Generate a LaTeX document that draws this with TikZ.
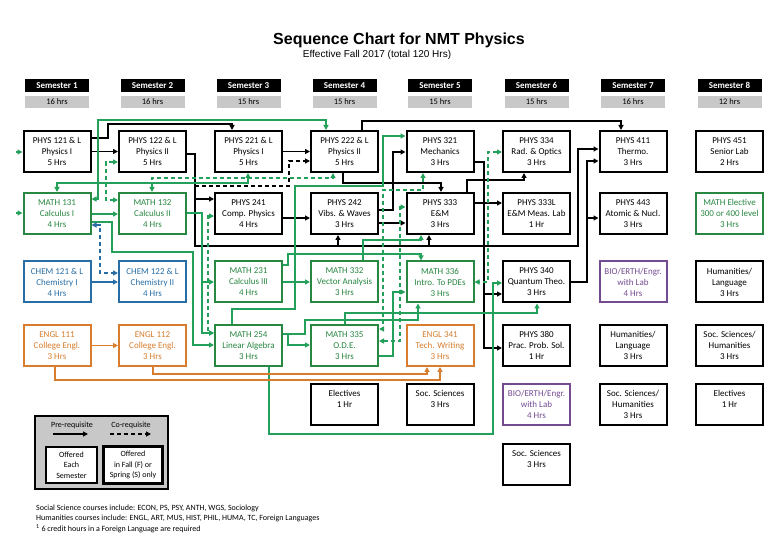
\documentclass[tikz,border=0pt]{standalone}
\usepackage{fontspec}
\setmainfont{Carlito}
\newfontfamily\arialfont{Liberation Sans}
\usetikzlibrary{arrows.meta}
\definecolor{mgreen}{RGB}{40,135,65}
\definecolor{lgreen}{RGB}{35,160,90}
\definecolor{cblue}{RGB}{40,110,165}
\definecolor{corange}{RGB}{215,125,45}
\definecolor{cpurple}{RGB}{115,75,145}
\definecolor{hgray}{RGB}{200,200,200}
\tikzset{
 course/.style={draw=black, line width=2pt, fill=white, minimum width=67pt, minimum height=41pt, inner sep=0pt, align=center, font=\fontsize{9}{11}\selectfont},
 mathc/.style={course, draw=mgreen, text=mgreen},
 chemc/.style={course, draw=cblue, text=cblue},
 englc/.style={course, draw=corange, text=corange},
 bioc/.style={course, draw=cpurple, text=cpurple},
 semhead/.style={fill=black, text=white, minimum width=64pt, minimum height=13pt, inner sep=0pt, font=\bfseries\fontsize{9}{10}\selectfont},
 hrsbox/.style={fill=hgray, minimum width=64pt, minimum height=12pt, inner sep=0pt, font=\fontsize{8.5}{10}\selectfont},
 lnk/.style={line width=1.5pt},
 arE/.style={-{Triangle[length=5pt,width=5pt]}},
 arB/.style={{Triangle[length=5pt,width=5pt]}-{Triangle[length=5pt,width=5pt]}},
 blk/.style={lnk, draw=black},
 grn/.style={lnk, draw=lgreen},
 blu/.style={lnk, draw=cblue},
 org/.style={lnk, draw=corange},
 codash/.style={dash pattern=on 4pt off 3pt},
 smalltext/.style={font=\fontsize{8}{10}\selectfont, inner sep=0pt}
}
\begin{document}
\begin{tikzpicture}[x=1pt,y=-1pt]
\useasboundingbox (0,0) rectangle (780,540);
\fill[white] (0,0) rectangle (780,540);

% titles
\node[font=\arialfont\bfseries\fontsize{16}{18}\selectfont] (title) at (399,40) {Sequence Chart for NMT Physics};
\node[font=\arialfont\fontsize{10}{12}\selectfont] (subtitle) at (377,55) {Effective Fall 2017 (total 120 Hrs)};

% headers
\foreach \i/\x/\h in {1/57/16,2/152.5/16,3/248.5/15,4/344.5/15,5/440/15,6/536.5/15,7/633/16,8/729.5/12}{
  \node[semhead] (sem\i) at (\x,85.5) {Semester \i};
  \node[hrsbox] (hrs\i) at (\x,102) {\h\ hrs};
}

% semester 1
\node[course] (p121) at (57,151.5) {PHYS 121 \& L\\Physics I\\5 Hrs};
\node[mathc] (m131) at (57,213.5) {MATH 131\\Calculus I\\4 Hrs};
\node[chemc] (c121) at (57,282) {CHEM 121 \& L\\Chemistry I\\4 Hrs};
\node[englc] (e111) at (57,345.5) {ENGL 111\\College Engl.\\3 Hrs};
% semester 2
\node[course] (p122) at (152.5,151.5) {PHYS 122 \& L\\Physics II\\5 Hrs};
\node[mathc] (m132) at (152.5,213.5) {MATH 132\\Calculus II\\4 Hrs};
\node[chemc] (c122) at (152.5,282) {CHEM 122 \& L\\Chemistry II\\4 Hrs};
\node[englc] (e112) at (152.5,345.5) {ENGL 112\\College Engl.\\3 Hrs};
% semester 3
\node[course] (p221) at (248.5,151.5) {PHYS 221 \& L\\Physics I\\5 Hrs};
\node[course] (p241) at (248.5,213.5) {PHYS 241\\Comp. Physics\\4 Hrs};
\node[mathc] (m231) at (248.5,282) {MATH 231\\Calculus III\\4 Hrs};
\node[mathc] (m254) at (248.5,345.5) {MATH 254\\Linear Algebra\\3 Hrs};
% semester 4
\node[course] (p222) at (344.5,151.5) {PHYS 222 \& L\\Physics II\\5 Hrs};
\node[course] (p242) at (344.5,213.5) {PHYS 242\\Vibs. \& Waves\\3 Hrs};
\node[mathc] (m332) at (344.5,282) {MATH 332\\Vector Analysis\\3 Hrs};
\node[mathc] (m335) at (344.5,345.5) {MATH 335\\O.D.E.\\3 Hrs};
\node[course] (el4) at (344.5,404.5) {Electives\\1 Hr\\\mbox{}};
% semester 5
\node[course] (p321) at (440,151.5) {PHYS 321\\Mechanics\\3 Hrs};
\node[course] (p333) at (440,213.5) {PHYS 333\\E\&M\\3 Hrs};
\node[mathc] (m336) at (440,282) {MATH 336\\Intro. To PDEs\\3 Hrs};
\node[englc] (e341) at (440,345.5) {ENGL 341\\Tech. Writing\\3 Hrs};
\node[course] (ss5) at (440,404.5) {Soc. Sciences\\3 Hrs\\\mbox{}};
% semester 6
\node[course] (p334) at (536.5,151.5) {PHYS 334\\Rad. \& Optics\\3 Hrs};
\node[course] (p333L) at (536.5,213.5) {PHYS 333L\\E\&M Meas. Lab\\1 Hr};
\node[course] (p340) at (536.5,282) {PHYS 340\\Quantum Theo.\\3 Hrs};
\node[course] (p380) at (536.5,345.5) {PHYS 380\\Prac. Prob. Sol.\\1 Hr};
\node[bioc] (bio6) at (536.5,404.5) {BIO/ERTH/Engr.\\with Lab\\4 Hrs};
\node[course] (ss6) at (536.5,464.5) {Soc. Sciences\\3 Hrs\\\mbox{}};
% semester 7
\node[course] (p411) at (633,151.5) {PHYS 411\\Thermo.\\3 Hrs};
\node[course] (p443) at (633,213.5) {PHYS 443\\Atomic \& Nucl.\\3 Hrs};
\node[bioc] (bio7) at (633,282) {BIO/ERTH/Engr.\\with Lab\\4 Hrs};
\node[course] (hum7) at (633,345.5) {Humanities/\\Language\\3 Hrs};
\node[course] (ssh7) at (633,404.5) {Soc. Sciences/\\Humanities\\3 Hrs};
% semester 8
\node[course] (p451) at (729.5,151.5) {PHYS 451\\Senior Lab\\2 Hrs};
\node[mathc] (mel) at (729.5,213.5) {MATH Elective\\300 or 400 level\\3 Hrs};
\node[course] (hum8) at (729.5,282) {Humanities/\\Language\\3 Hrs};
\node[course] (ssh8) at (729.5,345.5) {Soc. Sciences/\\Humanities\\3 Hrs};
\node[course] (el8) at (729.5,404.5) {Electives\\1 Hr\\\mbox{}};

% junction coordinates
\coordinate (j1) at (195,199);
\coordinate (j2) at (338,246);
\coordinate (j3) at (429,246);
\coordinate (j4) at (484,294);
\coordinate (j5) at (587,218);
\coordinate (j6) at (195,186);
\coordinate (j7) at (202,282);
\coordinate (s1) at (16,152);
\coordinate (s2) at (16,213);

% black prerequisites
\draw[blk,arE] (p121.east) -- (p122.west);
\draw[blk,arE] (p121.east |- 0,138) -- (108,138) -- (108,124) -- (232,124) -- (p221.north -| 232,0);
\draw[blk,arE] (p122.east |- 0,154) -- (195,154) -- (195,246) -- (578,246) -- (578,149) -- (p411.west |- 0,149);
\draw[blk,arE] (j1) -- (p241.west |- j1);
\draw[blk,arE] (j2) -- (p242.south -| j2);
\draw[blk,arE] (j3) -- (p333.south -| j3);
\draw[blk,arE] (p221.east) -- (p222.west);
\draw[blk,arE] (p241.east |- 0,218) -- (p242.west |- 0,218);
\draw[blk,arE] (p222.north -| 362,0) -- (362,121) -- (621,121) -- (p411.north -| 621,0);
\draw[blk,arE] (p222.south -| 343,0) -- (343,183) -- (441,183) -- (p333.north -| 441,0);
\draw[blk,arE] (p242.east |- 0,210) -- (393,210) -- (393,152) -- (p321.west |- 0,152);
\draw[blk,arE] (p242.east |- 0,223) -- (p333.west |- 0,223);
\draw[blk,arE] (p321.east |- 0,162) -- (484,162) -- (484,348) -- (p380.west |- 0,348);
\draw[blk,arE] (j4) -- (p340.west |- j4);
\draw[blk,arE] (p333.north -| 467,0) -- (467,180) -- (524,180) -- (p334.south -| 524,0);
\draw[blk,arE] (p333.east |- 0,203) -- (p333L.west |- 0,203);
\draw[blk,arE] (p340.east |- 0,282) -- (587,282) -- (587,161) -- (p411.west |- 0,161);
\draw[blk,arE] (j5) -- (p443.west |- j5);
\draw[blk,arE,codash] (j6) -- (289,186) -- (289,161) -- (p222.west |- 0,161);

% green math links
\draw[grn,arE] (s1) -- (p121.west |- s1);
\draw[grn,arE] (s2) -- (m131.west |- s2);
\draw[grn,arB] (m131.north -| 57,0) -- (57,183) -- (248,183) -- (p221.south -| 248,0);
\draw[grn,arB,codash] (m132.north -| 152,0) -- (152,178) -- (333,178) -- (p222.south -| 333,0);
\draw[grn,arB] (m131.east |- 0,199) -- (98,199) -- (98,120) -- (326,120) -- (p222.north -| 326,0);
\draw[grn,arE] (m131.east |- 0,214) -- (m132.west |- 0,214);
\draw[grn,arB,codash] (p122.west |- 0,162) -- (106,162) -- (106,200) -- (m132.west |- 0,200);
\draw[grn,arE] (m131.east |- 0,222) -- (112,222) -- (112,252) -- (193,252) -- (193,345) -- (m254.west |- 0,345);
\draw[grn,arE] (m132.east |- 0,213) -- (202,213) -- (202,282) -- (m231.west |- 0,282);
\draw[grn,arE] (j7) -- (202,333) -- (m254.west |- 0,333);
\draw[grn,arB,codash] (p241.west |- 0,216) -- (208,216) -- (208,333) -- (m254.west |- 0,333);
\draw[grn,arE] (m254.north -| 232,0) -- (232,309) -- (295,309) -- (295,186) -- (383,186) -- (383,136) -- (p321.west |- 0,136);
\draw[grn,arE] (m231.east) -- (m332.west);
\draw[grn,arE] (m231.east |- 0,265) -- (288,265) -- (288,254) -- (421,254) -- (m336.north -| 421,0);
\draw[grn,arE] (m332.north -| 363,0) -- (363,240) -- (421,240) -- (p333.south -| 421,0);
\draw[grn,arB,codash] (p321.south -| 423,0) -- (423,190) -- (383,190) -- (383,329) -- (m335.east |- 0,329);
\draw[grn,arB,codash] (p333.west |- 0,207) -- (400,207) -- (400,341) -- (m335.east |- 0,341);
\draw[grn,arE] (m335.east |- 0,356) -- (393,356) -- (393,292) -- (m336.west |- 0,292);
\draw[grn,arB,codash] (p334.west |- 0,152) -- (488,152) -- (488,282) -- (m336.east |- 0,282);
\draw[grn,arE] (m254.east |- 0,334) -- (288,334) -- (288,345) -- (m335.west |- 0,345);
\draw[grn,arE] (m254.east |- 0,334) -- (305,334) -- (305,320) -- (418,320) -- (m336.south -| 418,0);
\draw[grn,arE] (m335.north -| 345,0) -- (345,313) -- (537,313) -- (p340.south -| 537,0);
\draw[grn,arE] (m254.south -| 269,0) -- (269,434) -- (493,434) -- (493,283) -- (p340.west |- 0,283);

% blue chem links
\draw[blu,arE] (c121.east) -- (c122.west);
\draw[blu,arB,codash] (m131.east |- 0,225) -- (100,225) -- (100,273) -- (c122.west |- 0,273);

% orange english links
\draw[org,arE] (e111.east) -- (e112.west);
\draw[org,arE] (e111.south -| 55,0) -- (55,380) -- (440,380) -- (e341.south -| 440,0);
\draw[org,arE] (e112.south -| 153,0) -- (153,374) -- (427,374) -- (e341.south -| 427,0);

% legend
\node[draw=black, line width=1.5pt, fill=hgray, minimum width=133pt, minimum height=73pt, inner sep=0pt] (legend) at (101.5,452.5) {};
\node[smalltext] (lpre) at (72,425) {Pre-requisite};
\node[smalltext] (lco) at (131,425) {Co-requisite};
\coordinate (lpa) at (53,434);
\coordinate (lpb) at (88,434);
\coordinate (lca) at (110,434);
\coordinate (lcb) at (151,434);
\draw[blk,arE] (lpa) -- (lpb);
\draw[blk,arE,codash] (lca) -- (lcb);
\node[draw=black, line width=1.5pt, fill=white, minimum width=51pt, minimum height=36pt, inner sep=0pt, align=center, font=\fontsize{8}{10.5}\selectfont] (leach) at (71.5,465) {Offered\\Each\\Semester};
\node[draw=black, line width=3pt, fill=white, minimum width=59pt, minimum height=37pt, inner sep=0pt, align=center, font=\fontsize{8}{10.5}\selectfont] (lfs) at (133,465) {Offered\\in Fall (F) or\\Spring (S) only};

% footnotes
\node[smalltext, anchor=west] (fn1) at (36,508) {Social Science courses include: ECON, PS, PSY, ANTH, WGS, Sociology};
\node[smalltext, anchor=west] (fn2) at (36,518.5) {Humanities courses include: ENGL, ART, MUS, HIST, PHIL, HUMA, TC, Foreign Languages};
\node[smalltext, anchor=west] (fn3) at (36,529) {\textsuperscript{1} 6 credit hours in a Foreign Language are required};
\end{tikzpicture}
\end{document}
